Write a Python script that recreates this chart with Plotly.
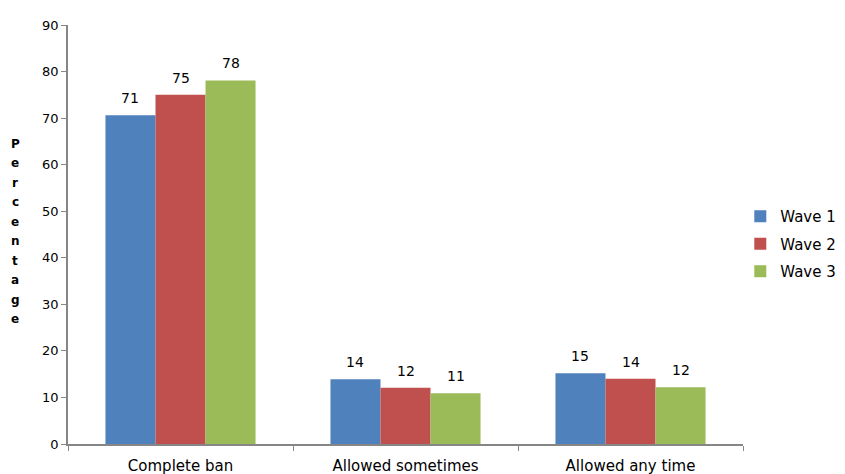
import plotly.graph_objects as go

categories = ["Complete ban", "Allowed sometimes", "Allowed any time"]
wave1 = [70.6, 13.9, 15.2]
wave2 = [75.0, 12.1, 14.0]
wave3 = [78.1, 10.9, 12.2]
series_names = ["Wave 1", "Wave 2", "Wave 3"]
colors = ["#4F81BD", "#C0504D", "#9BBB59"]
y_ticks = [0, 10, 20, 30, 40, 50, 60, 70, 80, 90]
y_title = "Percentage"

FONT = "DejaVu Sans, Arial, sans-serif"

# page body has 8px default margin -> figure drawn at (8,8)
W, H = 837, 466
ML, MT, MR, MB = 60, 17, 102, 30
plot_w = W - ML - MR
plot_h = H - MT - MB
BARGAP = 0.333
bar_px = plot_w / len(categories) * (1 - BARGAP) / 3

fig = go.Figure()
all_series = [wave1, wave2, wave3]
for si, (name, vals, col) in enumerate(zip(series_names, all_series, colors)):
    fig.add_trace(go.Bar(
        x=categories, y=vals, name=name, legendgroup=name,
        marker=dict(color=col, line=dict(width=0)),
    ))
    for cat, v in zip(categories, vals):
        fig.add_annotation(x=cat, y=v, xref="x", yref="y", text=f"{round(v):d}",
                           showarrow=False, xanchor="center", yanchor="middle",
                           xshift=(si - 1) * bar_px, yshift=17,
                           font=dict(family=FONT, size=14, color="#000000"))

fig.update_layout(
    width=W, height=H,
    margin=dict(l=ML, r=MR, t=MT, b=MB, autoexpand=False),
    plot_bgcolor="white", paper_bgcolor="white",
    barmode="group", bargap=BARGAP, bargroupgap=0,
    font=dict(family=FONT, size=14, color="#000000"),
    legend=dict(x=-0.004, y=1 - (236 - MT) / plot_h, xanchor="left", yanchor="middle",
                xref="paper", font=dict(family=FONT, size=15), itemwidth=30,
                tracegroupgap=5),
    showlegend=True,
)
fig.update_layout(legend_x=1 - 0.004)
fig.update_xaxes(showline=True, linecolor="#868686", linewidth=1.5,
                 ticks="outside", tickson="boundaries", ticklen=5, tickcolor="#868686",
                 tickfont=dict(family=FONT, size=15), ticklabelstandoff=7, showgrid=False)
fig.update_yaxes(range=[0, 90], tickvals=y_ticks, showline=True, linecolor="#868686",
                 linewidth=1.5, ticks="outside", ticklen=5, tickcolor="#868686",
                 tickfont=dict(family=FONT, size=13), showgrid=False, zeroline=False)

# stacked vertical axis title
n = len(y_title)
top_px, bot_px = 136, 311
for i, ch in enumerate(y_title):
    ypx = top_px + (bot_px - top_px) * i / (n - 1)
    yp = 1 - (ypx - MT) / plot_h
    fig.add_annotation(text=f"<b>{ch}</b>", xref="paper", yref="paper",
                       x=-53 / plot_w, y=yp, xanchor="center", yanchor="middle",
                       showarrow=False, font=dict(family=FONT, size=12, color="#000000"))

fig.write_html("out.html")
